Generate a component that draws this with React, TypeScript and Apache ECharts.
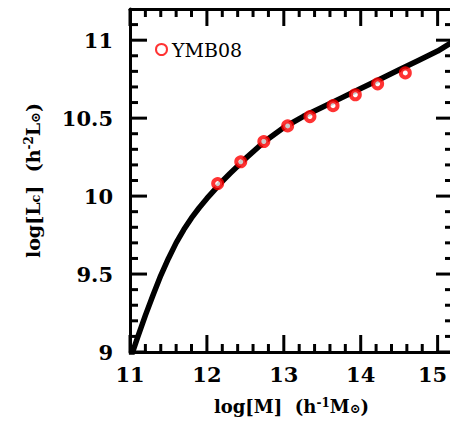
import React, { useEffect, useRef } from "react";
import * as echarts from "echarts";

const curveX = [11.0, 11.1, 11.2, 11.3, 11.4, 11.5, 11.6, 11.7, 11.8, 11.9, 12.0, 12.1, 12.2, 12.3, 12.5, 12.75, 13.0, 13.25, 13.5, 13.75, 14.0, 14.25, 14.5, 14.75, 15.0, 15.2];
const curveY = [8.95, 9.095, 9.235, 9.365, 9.49, 9.6, 9.7, 9.785, 9.86, 9.925, 9.985, 10.04, 10.095, 10.145, 10.24, 10.35, 10.44, 10.51, 10.57, 10.63, 10.69, 10.75, 10.81, 10.87, 10.93, 10.99];
const ymbX = [12.14, 12.44, 12.74, 13.05, 13.34, 13.64, 13.93, 14.22, 14.58];
const ymbY = [10.08, 10.22, 10.35, 10.45, 10.51, 10.58, 10.65, 10.72, 10.79];
const seriesName = "YMB08";

const xMajorTicks = [11, 12, 13, 14, 15];
const xMinorTicks = [11.2, 11.4, 11.6, 11.8, 12.2, 12.4, 12.6, 12.8, 13.2, 13.4, 13.6, 13.8, 14.2, 14.4, 14.6, 14.8];
const yMajorTicks = [9, 9.5, 10, 10.5, 11];
const yMinorTicks = [9.1, 9.2, 9.3, 9.4, 9.6, 9.7, 9.8, 9.9, 10.1, 10.2, 10.3, 10.4, 10.6, 10.7, 10.8, 10.9, 11.1];

const X_MIN = 11;
const X_MAX = 15.2;
const Y_MIN = 9;
const Y_MAX = 11.2;

const FONT = "DejaVu Serif";
const MAJOR = 17;
const MINOR = 8;
const TW = 3;

export default function App() {
  const ref = useRef<HTMLDivElement>(null);
  useEffect(() => {
    document.body.style.margin = "0";
    const chart = echarts.init(ref.current!, null, { renderer: "svg" });
    const labelStyle = (size: number) => ({ fontFamily: FONT, fontSize: size, fontWeight: "bold", color: "#000" });
    const rich = () => ({
      sup: { fontFamily: FONT, fontWeight: "bold", fontSize: 12, verticalAlign: "top", color: "#000" },
      sub: { fontFamily: FONT, fontWeight: "bold", fontSize: 13, verticalAlign: "bottom", color: "#000" },
    });
    const axisBase = () => ({
      axisLine: { show: true, onZero: false, lineStyle: { color: "#000", width: 3 } },
      axisTick: { show: false },
      minorTick: { show: false },
      splitLine: { show: false },
    });
    chart.setOption({
      animation: false,
      backgroundColor: "#fff",
      grid: { left: 130, top: 9, width: 323, height: 343, containLabel: false, outerBoundsMode: "none" },
      legend: {
        show: true,
        left: 150,
        top: 35,
        itemWidth: 11,
        itemHeight: 11,
        itemGap: 6,
        icon: "circle",
        data: [seriesName],
        textStyle: { fontFamily: FONT, fontSize: 19, color: "#000" },
      },
      xAxis: [
        {
          type: "value",
          min: X_MIN,
          max: X_MAX,
          interval: 1,
          position: "bottom",
          ...axisBase(),
          axisLabel: {
            ...labelStyle(21),
            margin: 12,
            showMaxLabel: false,
            formatter: (v: number) => (v === 15 ? "{r|15}" : String(v)),
            rich: { r: { ...labelStyle(21), padding: [0, 10, 0, 0] } },
          },
          name: "log[M]  (h{sup|-1}M{sub|⊙})",
          nameLocation: "middle",
          nameGap: 45,
          nameTextStyle: { ...labelStyle(18), rich: rich() },
        },
        {
          type: "value",
          min: X_MIN,
          max: X_MAX,
          interval: 1,
          position: "top",
          ...axisBase(),
          axisLabel: { show: false },
        },
      ],
      yAxis: [
        {
          type: "value",
          min: Y_MIN,
          max: Y_MAX,
          interval: 0.5,
          position: "left",
          ...axisBase(),
          axisLabel: { ...labelStyle(21), margin: 17, showMaxLabel: false },
          name: "log[L{sub|c}]  (h{sup|-2}L{sub|⊙})",
          nameLocation: "middle",
          nameGap: 88,
          nameTextStyle: { ...labelStyle(19), rich: rich() },
        },
        {
          type: "value",
          min: Y_MIN,
          max: Y_MAX,
          interval: 0.5,
          position: "right",
          ...axisBase(),
          axisLabel: { show: false },
        },
      ],
      series: [
        {
          type: "line",
          name: "model",
          data: curveX.map((x, i) => [x, curveY[i]]),
          smooth: false,
          showSymbol: false,
          lineStyle: { color: "#000", width: 5.5, join: "round" },
          clip: true,
          z: 2,
        },
        {
          type: "scatter",
          name: seriesName,
          data: ymbX.map((x, i) => [x, ymbY[i]]),
          symbol: "circle",
          symbolSize: 9,
          itemStyle: { color: "#fff", borderColor: "#ff0000", borderWidth: 4 },
          z: 3,
        },
      ],
    });

    // tick marks placed through the chart's own axis scales
    const toPx = (x: number, y: number) => chart.convertToPixel({ gridIndex: 0 }, [x, y]) as number[];
    const bottom = toPx(X_MIN, Y_MIN)[1];
    const top = toPx(X_MIN, Y_MAX)[1];
    const left = toPx(X_MIN, Y_MIN)[0];
    const right = toPx(X_MAX, Y_MIN)[0];
    const elements: any[] = [];
    const addX = (v: number, len: number) => {
      const px = toPx(v, Y_MIN)[0];
      elements.push({ type: "rect", silent: true, z: 50, shape: { x: px - TW / 2, y: bottom - len, width: TW, height: len }, style: { fill: "#000" } });
      elements.push({ type: "rect", silent: true, z: 50, shape: { x: px - TW / 2, y: top, width: TW, height: len }, style: { fill: "#000" } });
    };
    const addY = (v: number, len: number) => {
      const py = toPx(X_MIN, v)[1];
      elements.push({ type: "rect", silent: true, z: 50, shape: { x: left, y: py - TW / 2, width: len, height: TW }, style: { fill: "#000" } });
      elements.push({ type: "rect", silent: true, z: 50, shape: { x: right - len, y: py - TW / 2, width: len, height: TW }, style: { fill: "#000" } });
    };
    xMajorTicks.forEach((v) => addX(v, MAJOR));
    xMinorTicks.forEach((v) => addX(v, MINOR));
    yMajorTicks.forEach((v) => addY(v, MAJOR));
    yMinorTicks.forEach((v) => addY(v, MINOR));
    chart.setOption({ graphic: { elements } });

    return () => chart.dispose();
  }, []);
  return <div ref={ref} style={{ width: 450, height: 428, overflow: "hidden" }} />;
}
